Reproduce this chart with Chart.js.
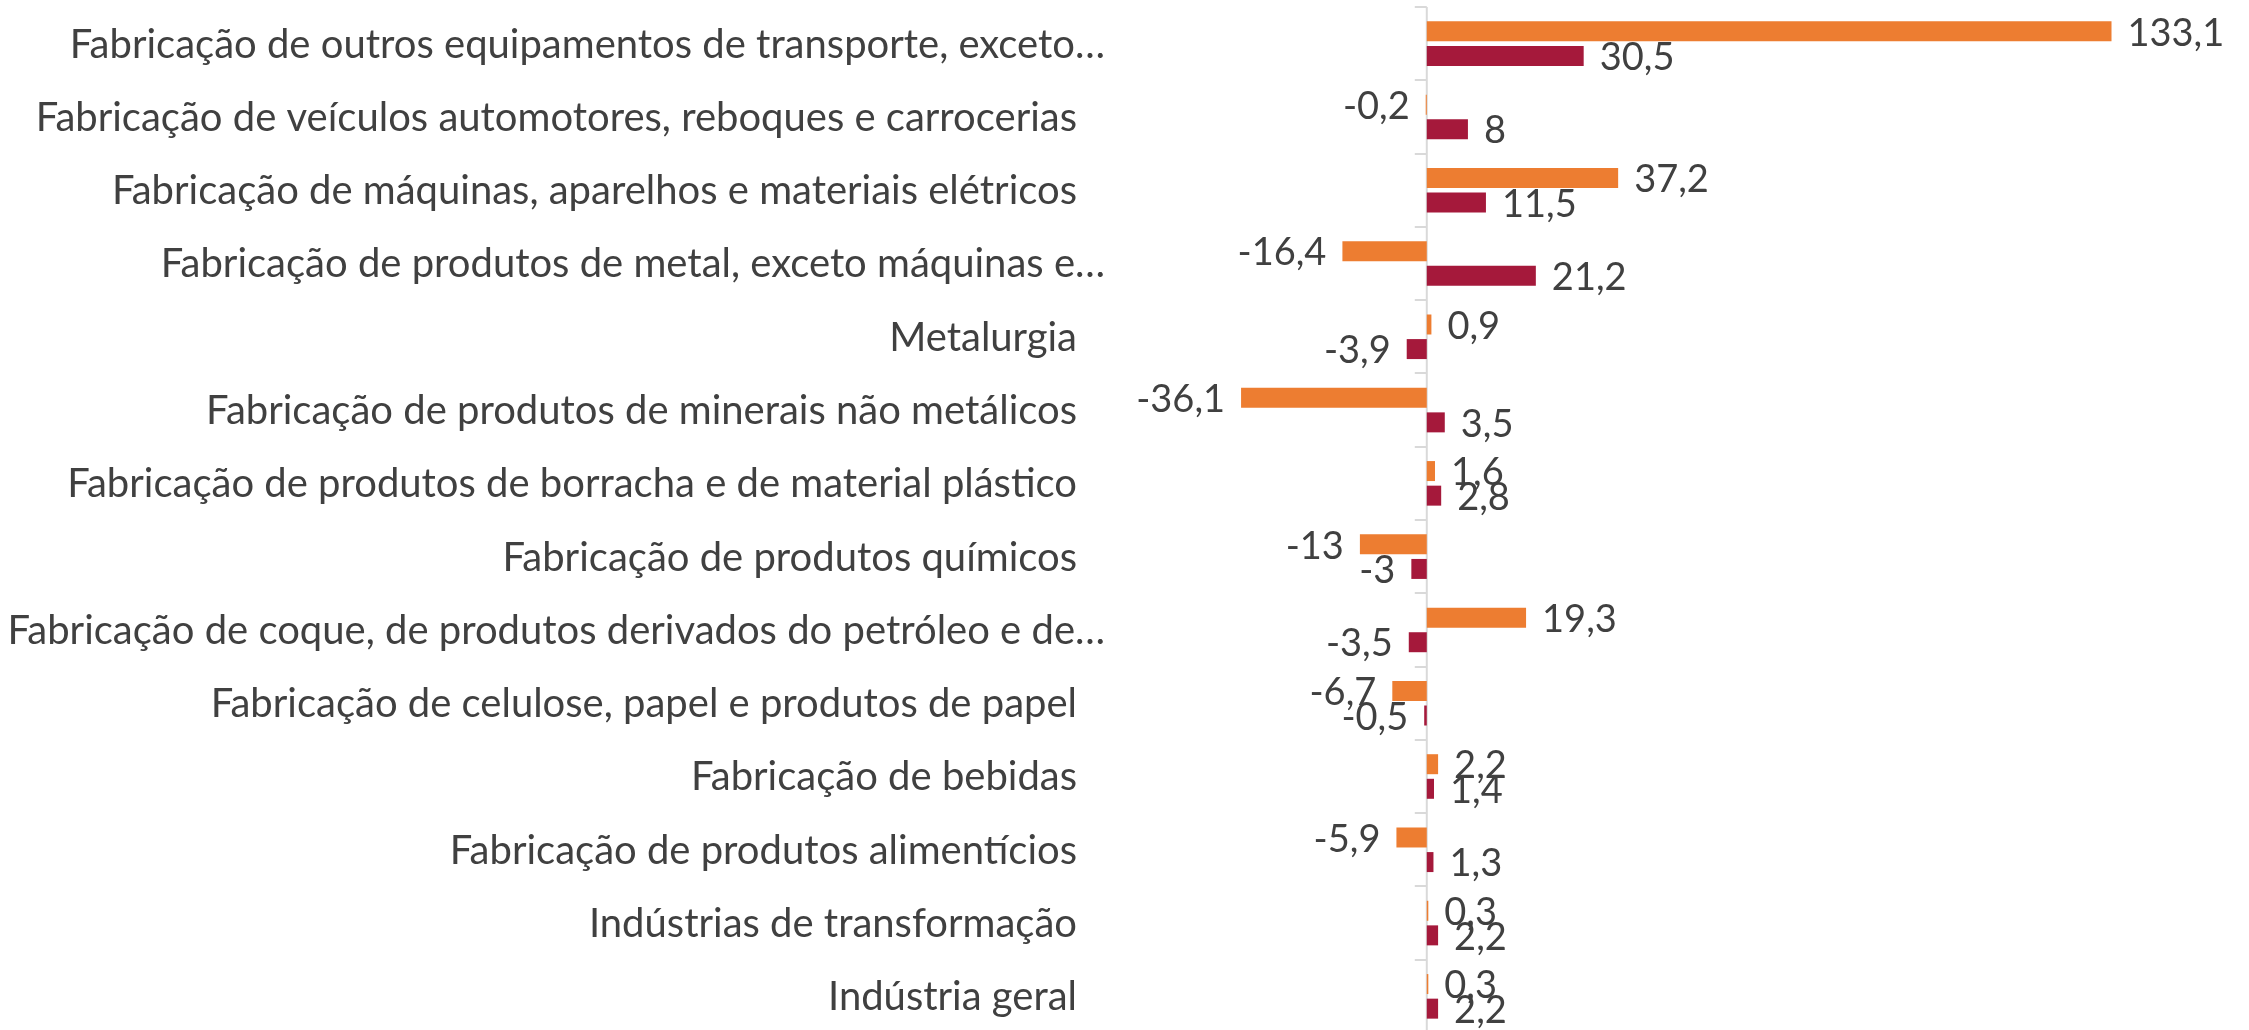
<!DOCTYPE html>
<html lang="pt-BR">
<head>
  <meta charset="UTF-8">
  <title>Variação por atividade industrial</title>
  <script src="https://cdn.jsdelivr.net/npm/chart.js"></script>
  <style>
    html, body {
      margin: 0;
      padding: 0;
      background: #fff;
      overflow: hidden;
    }

    .chart-box {
      position: relative;
      width: 2249px;
      height: 1034px;
    }
  </style>
</head>
<body>
  <div class="chart-box">
    <canvas id="industryChart"></canvas>
  </div>

  <script>
    // Atividades (de cima para baixo)
    const categories = [
      'Fabricação de outros equipamentos de transporte, exceto…',
      'Fabricação de veículos automotores, reboques e carrocerias',
      'Fabricação de máquinas, aparelhos e materiais elétricos',
      'Fabricação de produtos de metal, exceto máquinas e…',
      'Metalurgia',
      'Fabricação de produtos de minerais não metálicos',
      'Fabricação de produtos de borracha e de material plástico',
      'Fabricação de produtos químicos',
      'Fabricação de coque, de produtos derivados do petróleo e de…',
      'Fabricação de celulose, papel e produtos de papel',
      'Fabricação de bebidas',
      'Fabricação de produtos alimentícios',
      'Indústrias de transformação',
      'Indústria geral'
    ];

    const seriesOrange = [133.1, -0.2, 37.2, -16.4, 0.9, -36.1, 1.6, -13, 19.3, -6.7, 2.2, -5.9, 0.3, 0.3];
    const seriesRed = [30.5, 8, 11.5, 21.2, -3.9, 3.5, 2.8, -3, -3.5, -0.5, 1.4, 1.3, 2.2, 2.2];

    const textColor = '#404040';
    const fontFamily = 'Lato, "Open Sans", sans-serif';

    function fmt(v) {
      return String(v).replace('.', ',');
    }

    // zero line with small tick marks between categories
    const zeroAxis = {
      id: 'zeroAxis',
      beforeDatasetsDraw(chart) {
        const { ctx, chartArea, scales: { x, y } } = chart;
        const zero = x.getPixelForValue(0);
        ctx.save();
        ctx.strokeStyle = '#d9d9d9';
        ctx.lineWidth = 2;
        ctx.beginPath();
        ctx.moveTo(zero, chartArea.top);
        ctx.lineTo(zero, chartArea.bottom);
        for (let i = 0; i <= categories.length; i++) {
          const yy = Math.round(y.getPixelForValue(i - 0.5));
          ctx.moveTo(zero - 12, yy);
          ctx.lineTo(zero, yy);
        }
        ctx.stroke();
        ctx.restore();
      }
    };

    // category names and value labels
    const textLayer = {
      id: 'textLayer',
      afterDatasetsDraw(chart) {
        const { ctx, chartArea, scales: { y } } = chart;
        ctx.save();
        ctx.fillStyle = textColor;
        ctx.textBaseline = 'middle';

        ctx.font = '40px ' + fontFamily;
        ctx.textAlign = 'right';
        categories.forEach((name, i) => {
          const gap = name.endsWith('…') ? 116 : 144;
          ctx.fillText(name, chartArea.left - gap, y.getPixelForValue(i) + 1);
        });

        ctx.font = '38px ' + fontFamily;
        chart.data.datasets.forEach((ds, di) => {
          chart.getDatasetMeta(di).data.forEach((bar, i) => {
            const v = ds.data[i];
            if (v >= 0) {
              ctx.textAlign = 'left';
              ctx.fillText(fmt(v), bar.x + 16, bar.y + 2);
            } else {
              ctx.textAlign = 'right';
              ctx.fillText(fmt(v), bar.x - 16, bar.y + 2);
            }
          });
        });
        ctx.restore();
      }
    };

    const ctx = document.getElementById('industryChart').getContext('2d');
    new Chart(ctx, {
      type: 'bar',
      data: {
        labels: categories,
        datasets: [
          {
            label: 'Série 1',
            data: seriesOrange,
            backgroundColor: '#ED7D31',
            categoryPercentage: 0.671,
            barPercentage: 0.813
          },
          {
            label: 'Série 2',
            data: seriesRed,
            backgroundColor: '#A5193B',
            categoryPercentage: 0.671,
            barPercentage: 0.813
          }
        ]
      },
      options: {
        indexAxis: 'y',
        responsive: true,
        maintainAspectRatio: false,
        animation: false,
        layout: {
          padding: { left: 1221, right: 102, top: 7, bottom: 1 }
        },
        plugins: {
          legend: { display: false },
          tooltip: { enabled: false }
        },
        scales: {
          x: {
            display: false,
            min: -40,
            max: 140
          },
          y: {
            display: false
          }
        }
      },
      plugins: [zeroAxis, textLayer]
    });
  </script>
</body>
</html>
